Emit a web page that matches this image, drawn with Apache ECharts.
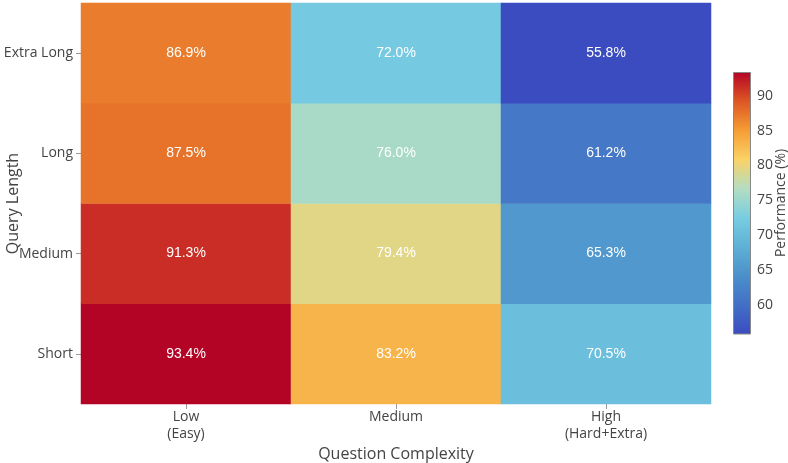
<!DOCTYPE html>
<html>
<head>
<meta charset="utf-8">
<script src="https://cdn.jsdelivr.net/npm/echarts@6/dist/echarts.min.js"></script>
<style>
  html, body { margin: 0; padding: 0; background: #fff; }
  #chart { width: 788px; height: 463px; }
</style>
</head>
<body>
<div id="chart"></div>
<script>
// categories
var complexity = ['Low\n(Easy)', 'Medium', 'High\n(Hard+Extra)'];
var queryLengths = ['Short', 'Medium', 'Long', 'Extra Long'];

// performance (%) per complexity column, bottom to top (Short .. Extra Long)
var lowVals = [93.4, 91.3, 87.5, 86.9];
var mediumVals = [83.2, 79.4, 76.0, 72.0];
var highVals = [70.5, 65.3, 61.2, 55.8];

// colorbar
var cbMin = 55.8;
var cbMax = 93.4;
var cbTicks = [60, 65, 70, 75, 80, 85, 90];
var palette = ['#3b4cc0', '#436ec6', '#4a8fc9', '#5fb0d6', '#78cde1',
               '#b3ddc2', '#fad266', '#f59d35', '#dd5624', '#b40426'];

var font = '"Open Sans", "DejaVu Sans", sans-serif';
var cellFont = '"Liberation Sans", Arial, sans-serif';
var textCol = '#444';

var cols = [lowVals, mediumVals, highVals];
var cells = [];
for (var i = 0; i < cols.length; i++) {
  for (var j = 0; j < cols[i].length; j++) cells.push([i, j, cols[i][j]]);
}

// gradient for the colorbar, offset 0 = top = max
var stops = [];
for (var k = 0; k < palette.length; k++) {
  stops.push({ offset: k / (palette.length - 1), color: palette[palette.length - 1 - k] });
}

var chart = echarts.init(document.getElementById('chart'));
chart.setOption({
  backgroundColor: '#fff',
  animation: false,
  textStyle: { fontFamily: font },
  grid: [
    { left: 81, right: 77, top: 3, bottom: 59, outerBoundsMode: 'none', containLabel: false },
    { left: 733, width: 18, top: 72, height: 262, outerBoundsMode: 'none', containLabel: false }
  ],
  xAxis: [{
    type: 'category', data: complexity, gridIndex: 0,
    axisLine: { show: false },
    axisTick: { show: true, alignWithLabel: true, length: 5, lineStyle: { color: '#999' } },
    axisLabel: { color: textCol, fontSize: 14, margin: 5, lineHeight: 17, fontFamily: font },
    name: 'Question Complexity', nameLocation: 'middle', nameGap: 42, nameMoveOverlap: false,
    nameTextStyle: { color: textCol, fontSize: 16, fontFamily: font }
  }, {
    type: 'category', data: [''], gridIndex: 1, show: false
  }],
  yAxis: [{
    type: 'category', data: queryLengths, gridIndex: 0,
    axisLine: { show: false },
    axisTick: { show: true, alignWithLabel: true, length: 5, lineStyle: { color: '#999' } },
    axisLabel: { color: textCol, fontSize: 14, margin: 8, fontFamily: font },
    name: 'Query Length', nameLocation: 'middle', nameGap: 60, nameRotate: 90, nameMoveOverlap: false,
    nameTextStyle: { color: textCol, fontSize: 16, fontFamily: font }
  }, {
    type: 'value', gridIndex: 1, position: 'right', min: cbMin, max: cbMax,
    axisLine: { show: false },
    axisTick: { show: false },
    splitLine: { show: false },
    axisLabel: { customValues: cbTicks, color: textCol, fontSize: 14, margin: 6, fontFamily: font },
    name: 'Performance (%)', nameLocation: 'middle', nameGap: 23, nameRotate: 90, nameMoveOverlap: false,
    nameTextStyle: { color: textCol, fontSize: 14, fontFamily: font }
  }],
  visualMap: {
    show: false, type: 'continuous', min: cbMin, max: cbMax, seriesIndex: 0,
    inRange: { color: palette }
  },
  series: [{
    type: 'heatmap', data: cells, xAxisIndex: 0, yAxisIndex: 0,
    label: {
      show: true, color: '#fff', fontSize: 14, fontFamily: cellFont,
      formatter: function (p) { return p.value[2].toFixed(1) + '%'; }
    },
    itemStyle: { borderWidth: 0 }
  }, {
    type: 'bar', xAxisIndex: 1, yAxisIndex: 1, data: [cbMax], barWidth: '100%',
    silent: true,
    itemStyle: {
      borderColor: '#888', borderWidth: 1,
      color: new echarts.graphic.LinearGradient(0, 0, 0, 1, stops)
    }
  }]
});
</script>
</body>
</html>
